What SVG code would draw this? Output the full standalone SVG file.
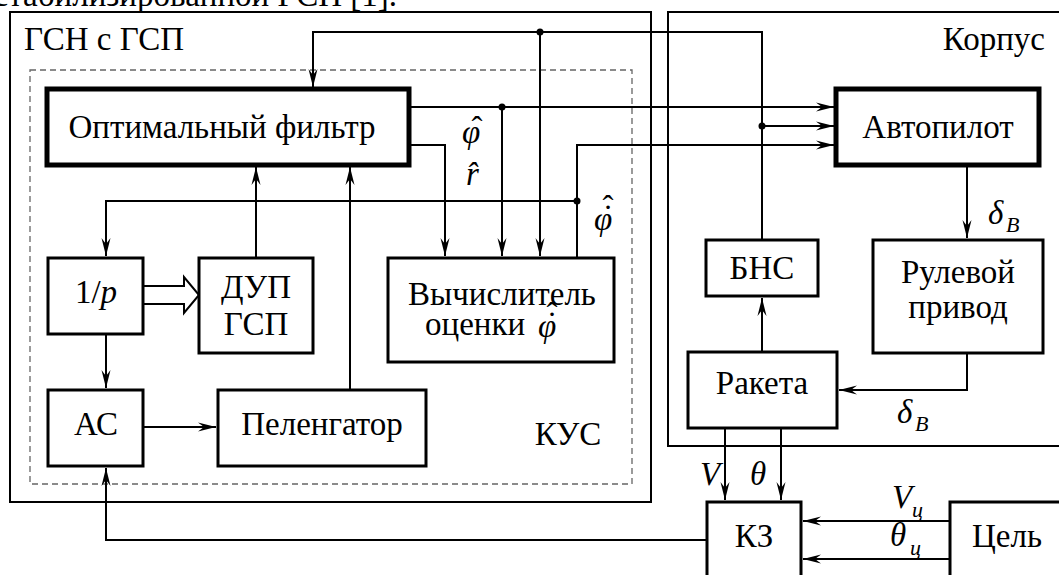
<svg xmlns="http://www.w3.org/2000/svg" width="1059" height="575" viewBox="0 0 1059 575">
<style>
.bx{fill:#fff;stroke:#000;stroke-width:3}
.tk{stroke-width:5}
.ln{fill:none;stroke:#000;stroke-width:2}
.fr{fill:none;stroke:#000;stroke-width:2}
.t{font-family:"Liberation Serif","Times New Roman",serif;font-size:33px;fill:#000}
.c{text-anchor:middle}
.m{font-style:italic}
.s{font-size:22px}
</style>
<defs>
<marker id="ah" markerUnits="userSpaceOnUse" markerWidth="20" markerHeight="10" viewBox="-19 -5 20 10" refX="0" refY="0" orient="auto">
<path d="M0,0 L-18,-4.5 L-12,0 L-18,4.5 Z" fill="#000"/>
</marker>
</defs>
<rect width="1059" height="575" fill="#fff"/>
<text class="t" x="397" y="6" text-anchor="end">стабилизированной ГСН [1].</text>

<g id="frames">
<rect class="fr" x="10" y="12" width="641" height="490"/>
<path class="fr" d="M1075,12 H668 V446 H1075"/>
<rect x="30" y="70" width="602" height="414" fill="none" stroke="#666" stroke-width="1.3" stroke-dasharray="6,4"/>
<text class="t" x="24" y="50">ГСН с ГСП</text>
<text class="t" x="1045" y="50" text-anchor="end">Корпус</text>
<text class="t c" x="568" y="445">КУС</text>
</g>

<g id="connectors">
<path class="ln" d="M762,240 V32 H313 V87" marker-end="url(#ah)"/>
<path class="ln" d="M540,32 V256" marker-end="url(#ah)"/>
<path class="ln" d="M409,107 H834" marker-end="url(#ah)"/>
<path class="ln" d="M502,107 V256" marker-end="url(#ah)"/>
<path class="ln" d="M409,145 H445 V256" marker-end="url(#ah)"/>
<path class="ln" d="M762,126 H834" marker-end="url(#ah)"/>
<path class="ln" d="M577,258 V145 H834" marker-end="url(#ah)"/>
<path class="ln" d="M577,201 H106 V256" marker-end="url(#ah)"/>
<path class="ln" d="M256,258 V167" marker-end="url(#ah)"/>
<path class="ln" d="M350,390 V167" marker-end="url(#ah)"/>
<path class="ln" d="M106,334 V388" marker-end="url(#ah)"/>
<path class="ln" d="M143,427 H216" marker-end="url(#ah)"/>
<path class="ln" d="M707,540 H106 V468" marker-end="url(#ah)"/>
<path class="ln" d="M762,352 V298" marker-end="url(#ah)"/>
<path class="ln" d="M967,167 V238" marker-end="url(#ah)"/>
<path class="ln" d="M967,353 V390 H839" marker-end="url(#ah)"/>
<path class="ln" d="M725,428 V500" marker-end="url(#ah)"/>
<path class="ln" d="M781,428 V500" marker-end="url(#ah)"/>
<path class="ln" d="M950,521 H803" marker-end="url(#ah)"/>
<path class="ln" d="M950,559 H803" marker-end="url(#ah)"/>
<path d="M143,286 H184 V277 L199,295 L184,313 V304 H143" fill="#fff" stroke="#000" stroke-width="2"/>
<circle cx="540" cy="32" r="3.5"/>
<circle cx="502" cy="107" r="3.5"/>
<circle cx="762" cy="126" r="3.5"/>
<circle cx="577" cy="201" r="3.5"/>
</g>

<g id="labels">
<text class="t m" x="462" y="143">φ</text>
<text class="t" x="477" y="140" text-anchor="middle">ˆ</text>
<text class="t m" x="466" y="185">r̂</text>
<text class="t m" x="594" y="230">φ</text>
<text class="t" x="608" y="228" text-anchor="middle">˙</text>
<text class="t" x="608" y="219" text-anchor="middle">ˆ</text>
<text class="t m" x="988" y="224">δ</text>
<text class="t m s" x="1006" y="232">B</text>
<text class="t m" x="897" y="423">δ</text>
<text class="t m s" x="915" y="431">B</text>
<text class="t m" x="700" y="485">V</text>
<text class="t m" x="750" y="485">θ</text>
<text class="t m" x="892" y="508">V</text>
<text class="t m s" x="912" y="517">ц</text>
<text class="t m" x="890" y="546">θ</text>
<text class="t m s" x="910" y="555">ц</text>
</g>

<g id="filter">
<rect class="bx tk" x="47" y="89" width="362" height="76"/>
<text class="t c" x="222" y="138">Оптимальный фильтр</text>
</g>
<g id="autopilot">
<rect class="bx tk" x="836" y="89" width="203" height="76"/>
<text class="t c" x="938" y="138">Автопилот</text>
</g>
<g id="integrator">
<rect class="bx" x="48" y="258" width="95" height="76"/>
<text class="t c" x="96" y="303">1/<tspan font-style="italic">p</tspan></text>
</g>
<g id="dup">
<rect class="bx" x="199" y="258" width="114" height="95"/>
<text class="t c" x="256" y="298">ДУП</text>
<text class="t c" x="256" y="335">ГСП</text>
</g>
<g id="calc">
<rect class="bx" x="388" y="258" width="226" height="104"/>
<text class="t c" x="502" y="305">Вычислитель</text>
<text class="t" x="425" y="335">оценки</text>
<text class="t m" x="538" y="337">φ</text>
<text class="t" x="552" y="335" text-anchor="middle">˙</text>
<text class="t" x="552" y="326" text-anchor="middle">ˆ</text>
</g>
<g id="as">
<rect class="bx" x="48" y="390" width="95" height="76"/>
<text class="t c" x="96" y="435">АС</text>
</g>
<g id="peleng">
<rect class="bx" x="218" y="390" width="208" height="76"/>
<text class="t c" x="322" y="435">Пеленгатор</text>
</g>
<g id="bns">
<rect class="bx" x="706" y="240" width="112" height="56"/>
<text class="t c" x="762" y="279">БНС</text>
</g>
<g id="servo">
<rect class="bx" x="873" y="240" width="170" height="113"/>
<text class="t c" x="958" y="283">Рулевой</text>
<text class="t c" x="958" y="318">привод</text>
</g>
<g id="rocket">
<rect class="bx" x="688" y="352" width="149" height="76"/>
<text class="t c" x="762" y="394">Ракета</text>
</g>
<g id="kz">
<rect class="bx" x="707" y="502" width="94" height="90"/>
<text class="t c" x="754" y="547">КЗ</text>
</g>
<g id="target">
<rect class="bx" x="950" y="502" width="130" height="90"/>
<text class="t" x="972" y="547">Цель</text>
</g>
</svg>
